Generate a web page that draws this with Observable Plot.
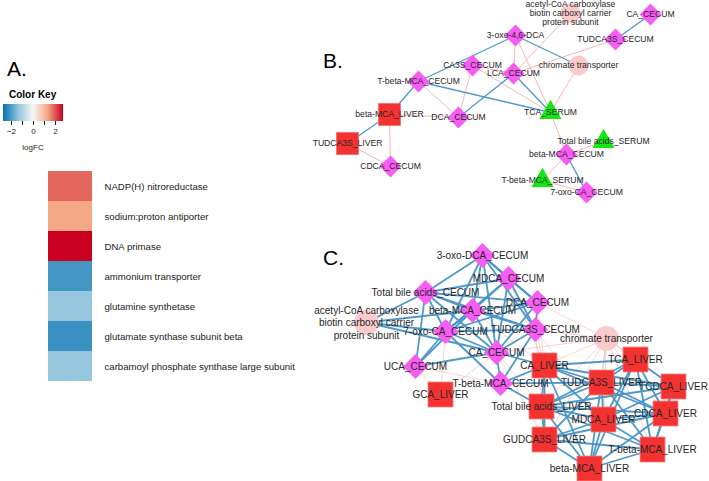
<!DOCTYPE html>
<html><head><meta charset="utf-8">
<script src="https://cdn.jsdelivr.net/npm/d3@7"></script>
<script src="https://cdn.jsdelivr.net/npm/@observablehq/plot@0.6"></script>
<style>
body{margin:0;background:#fff;}
#wrap{position:relative;width:709px;height:481px;overflow:hidden;font-family:"Liberation Sans",Arial,Helvetica,sans-serif;color:#000;background:#fff;}
.abs{position:absolute;}
.panel{position:absolute;font-size:21px;line-height:21px;white-space:nowrap;}
</style></head><body><div id="wrap"></div>
<script>
// ---------- Panel A data ----------
const genes = ["NADP(H) nitroreductase","sodium:proton antiporter","DNA primase","ammonium transporter","glutamine synthetase","glutamate synthase subunit beta","carbamoyl phosphate synthase large subunit"];
const logFC = [1.86, 1.3, 2.7, -2.1, -1.3, -2.2, -1.3];
const keyTicks = [-2, -1, 0, 1, 2];
const keyStops = [-2.7, -1.35, 0, 1.35, 2.7];
const keyColors = ["#0571B0", "#92C5DE", "#F7F7F7", "#F4A582", "#CA0020"];

// ---------- Panel B network: [id, label, x, y, kind] ----------
const nodesB = [
  ["b_acc","acetyl-CoA carboxylase\nbiotin carboxyl carrier\nprotein subunit",570,13,"gene"],
  ["b_chr","chromate transporter",578,65,"gene"],
  ["b_ca","CA_CECUM",650,14,"cecum"],
  ["b_tud","TUDCA3S_CECUM",615,39,"cecum"],
  ["b_3oxo","3-oxo-4,6-DCA",515,35,"cecum"],
  ["b_lca","LCA_CECUM",513,73,"cecum"],
  ["b_ca3s","CA3S_CECUM",472,65,"cecum"],
  ["b_tbmca","T-beta-MCA_CECUM",418,81,"cecum"],
  ["b_bmcaL","beta-MCA_LIVER",389,114,"liver"],
  ["b_dca","DCA_CECUM",458,117,"cecum"],
  ["b_tudL","TUDCA3S_LIVER",347,143,"liver"],
  ["b_cdca","CDCA_CECUM",390,166,"cecum"],
  ["b_tcaS","TCA_SERUM",550,112,"serum"],
  ["b_tbaS","Total bile acids_SERUM",603,141,"serum"],
  ["b_bmca","beta-MCA_CECUM",566,154,"cecum"],
  ["b_tbmcaS","T-beta-MCA_SERUM",542,180,"serum"],
  ["b_7oxo","7-oxo-CA_CECUM",586,192,"cecum"]
];
// [source, target, sign]  (-1 blue, +1 pink)
const edgesB = [
  ["b_3oxo","b_lca",1],["b_3oxo","b_tcaS",1],["b_ca3s","b_lca",1],["b_ca3s","b_dca",1],
  ["b_tbmca","b_dca",1],["b_bmcaL","b_dca",1],["b_bmcaL","b_cdca",1],["b_tudL","b_cdca",1],
  ["b_lca","b_acc",1],["b_lca","b_tud",1],["b_chr","b_tcaS",1],["b_tcaS","b_bmca",1],
  ["b_bmca","b_tbaS",1],["b_bmca","b_tbmcaS",1],["b_tbmcaS","b_7oxo",1],["b_ca3s","b_tcaS",1],
  ["b_tbmca","b_3oxo",-1],["b_bmcaL","b_tbmca",-1],["b_tudL","b_bmcaL",-1],["b_dca","b_lca",-1],
  ["b_lca","b_tcaS",-1],["b_tbmca","b_tcaS",-1],["b_3oxo","b_chr",-1],["b_tud","b_ca",-1],
  ["b_bmca","b_7oxo",-1]
];

// ---------- Panel C network ----------
const nodesC = [
  ["c_acc","acetyl-CoA carboxylase\nbiotin carboxyl carrier\nprotein subunit",366,322,"gene"],
  ["c_chr","chromate transporter",606,338,"gene"],
  ["c_3oxo","3-oxo-DCA_CECUM",482,255,"cecum"],
  ["c_mdca","MDCA_CECUM",508,278,"cecum"],
  ["c_tba","Total bile acids_CECUM",425,292,"cecum"],
  ["c_dca","DCA_CECUM",537,302,"cecum"],
  ["c_bmca","beta-MCA_CECUM",472,310,"cecum"],
  ["c_tud","TUDCA3S_CECUM",535,329,"cecum"],
  ["c_7oxo","7-oxo-CA_CECUM",445,331,"cecum"],
  ["c_ca","CA_CECUM",496,352,"cecum"],
  ["c_uca","UCA_CECUM",415,366,"cecum"],
  ["c_tbmca","T-beta-MCA_CECUM",500,383,"cecum"],
  ["l_gca","GCA_LIVER",440,394,"liver"],
  ["l_ca","CA_LIVER",544,365,"liver"],
  ["l_tca","TCA_LIVER",635,359,"liver"],
  ["l_tud","TUDCA3S_LIVER",601,382,"liver"],
  ["l_tcdca","TCDCA_LIVER",673,386,"liver"],
  ["l_tba","Total bile acids_LIVER",541,406,"liver"],
  ["l_mdca","MDCA_LIVER",603,419,"liver"],
  ["l_cdca","CDCA_LIVER",665,413,"liver"],
  ["l_gud","GUDCA3S_LIVER",544,439,"liver"],
  ["l_tbmca","T-beta-MCA_LIVER",652,449,"liver"],
  ["l_bmca","beta-MCA_LIVER",589,468,"liver"]
];
const edgesC = [
  // pink
  ["c_chr","l_ca",1],["c_chr","l_tca",1],["c_chr","l_tud",1],["c_chr","l_tba",1],["c_chr","l_mdca",1],
  ["c_chr","l_gud",1],["c_chr","l_bmca",1],["c_chr","l_tbmca",1],["c_chr","l_cdca",1],["c_chr","l_tcdca",1],
  ["c_chr","c_tud",1],["c_chr","c_dca",1],["c_chr","c_ca",1],["c_tud","l_ca",1],["c_tud","l_tba",1],
  ["c_ca","l_tba",1],["c_ca","l_gud",1],["c_dca","l_ca",1],["c_mdca","l_ca",1],["c_bmca","l_ca",1],
  ["l_gca","c_uca",1],["l_gca","c_ca",1],["l_gca","c_7oxo",1],["c_uca","c_tbmca",1],["c_tud","l_mdca",1],
  // blue, cecum
  ["c_3oxo","c_mdca",-1],["c_3oxo","c_tba",-1],["c_3oxo","c_bmca",-1],["c_3oxo","c_dca",-1],["c_3oxo","c_7oxo",-1],
  ["c_3oxo","c_ca",-1],["c_3oxo","c_tud",-1],["c_mdca","c_tba",-1],["c_mdca","c_bmca",-1],["c_mdca","c_dca",-1],
  ["c_mdca","c_tud",-1],["c_mdca","c_7oxo",-1],["c_mdca","c_ca",-1],["c_tba","c_bmca",-1],["c_tba","c_dca",-1],
  ["c_tba","c_7oxo",-1],["c_tba","c_ca",-1],["c_tba","c_tud",-1],["c_tba","c_uca",-1],["c_tba","c_acc",-1],
  ["c_bmca","c_dca",-1],["c_bmca","c_tud",-1],["c_bmca","c_7oxo",-1],["c_bmca","c_ca",-1],["c_bmca","c_uca",-1],
  ["c_dca","c_tud",-1],["c_dca","c_ca",-1],["c_dca","c_7oxo",-1],["c_tud","c_ca",-1],["c_tud","c_7oxo",-1],
  ["c_tud","c_tbmca",-1],["c_7oxo","c_ca",-1],["c_7oxo","c_uca",-1],["c_7oxo","c_acc",-1],["c_7oxo","c_tbmca",-1],
  ["c_ca","c_uca",-1],["c_ca","c_tbmca",-1],["c_acc","c_ca",-1],["c_acc","c_bmca",-1],
  // blue, cecum-liver
  ["l_ca","c_tbmca",-1],["l_ca","c_ca",-1],["c_tbmca","l_tba",-1],["c_tbmca","l_tud",-1],
  // blue, liver
  ["l_ca","l_tca",-1],["l_ca","l_tud",-1],["l_ca","l_tba",-1],["l_ca","l_mdca",-1],["l_ca","l_gud",-1],
  ["l_ca","l_bmca",-1],["l_ca","l_cdca",-1],["l_ca","l_tcdca",-1],
  ["l_tca","l_tud",-1],["l_tca","l_tcdca",-1],["l_tca","l_mdca",-1],["l_tca","l_cdca",-1],["l_tca","l_tbmca",-1],
  ["l_tca","l_tba",-1],["l_tca","l_bmca",-1],
  ["l_tud","l_tcdca",-1],["l_tud","l_tba",-1],["l_tud","l_mdca",-1],["l_tud","l_cdca",-1],["l_tud","l_gud",-1],
  ["l_tud","l_bmca",-1],["l_tud","l_tbmca",-1],
  ["l_tcdca","l_cdca",-1],["l_tcdca","l_tbmca",-1],["l_tcdca","l_mdca",-1],["l_tcdca","l_tba",-1],
  ["l_tba","l_mdca",-1],["l_tba","l_gud",-1],["l_tba","l_bmca",-1],["l_tba","l_cdca",-1],["l_tba","l_tbmca",-1],
  ["l_mdca","l_cdca",-1],["l_mdca","l_gud",-1],["l_mdca","l_bmca",-1],["l_mdca","l_tbmca",-1],
  ["l_cdca","l_tbmca",-1],["l_cdca","l_bmca",-1],["l_cdca","l_gud",-1],
  ["l_gud","l_bmca",-1],["l_gud","l_tbmca",-1],["l_tbmca","l_bmca",-1]
];

const panelLetters = ["A.", "B.", "C."];

// ---------- rendering ----------
const FONT = "Liberation Sans, Arial, Helvetica, sans-serif";
const BLUE = "#4593C7", PINK = "#F3A3A3";
const wrap = document.getElementById("wrap");

function networkMarks(nodes, edges, o) {
  const pos = new Map(nodes.map(n => [n[0], n]));
  const E = edges.map(([s, t, sign]) => ({s: pos.get(s), t: pos.get(t), sign}));
  const N = nodes.map(([id, label, x, y, kind]) => ({id, label, x, y, kind}));
  const link = (sign, stroke, w, op) => Plot.link(E.filter(e => e.sign === sign), {
    x1: e => e.s[2], y1: e => e.s[3], x2: e => e.t[2], y2: e => e.t[3],
    stroke, strokeWidth: w, strokeOpacity: op
  });
  return [
    link(1, PINK, o.pinkW, o.pinkO),
    link(-1, BLUE, o.blueW, 0.95),
    Plot.dot(N.filter(n => n.kind === "gene"), {x: "x", y: "y", r: o.circleR, fill: "#FBCACA", stroke: "none"}),
    Plot.dot(N.filter(n => n.kind === "liver"), {x: "x", y: "y", symbol: "square", r: o.squareR, fill: "#F43232", stroke: "#F76A6A", strokeWidth: 0.8}),
    Plot.dot(N.filter(n => n.kind === "cecum"), {x: "x", y: "y", symbol: "diamond2", r: o.diamondR, fill: "#F75CF3", stroke: "none"}),
    Plot.dot(N.filter(n => n.kind === "serum"), {x: "x", y: "y", symbol: "triangle", r: o.triR, fill: "#12E812", stroke: "none"}),
    Plot.text(N, {x: "x", y: "y", text: "label", fontSize: o.fs, fill: "#262626", lineHeight: o.lh, fontFamily: FONT})
  ];
}

const net = Plot.plot({
  width: 709, height: 481, margin: 0,
  x: {domain: [0, 709], range: [0, 709], axis: null},
  y: {domain: [0, 481], range: [0, 481], axis: null},
  style: {background: "transparent", fontFamily: FONT},
  marks: [
    ...networkMarks(nodesB, edgesB, {pinkW: 0.9, pinkO: 0.9, blueW: 1.3, circleR: 10, squareR: 12.4, diamondR: 9.8, triR: 8.2, fs: 8.6, lh: 1.05}),
    ...networkMarks(nodesC, edgesC, {pinkW: 0.7, pinkO: 0.7, blueW: 1.8, circleR: 12.5, squareR: 14, diamondR: 11.3, triR: 9, fs: 10, lh: 1.22})
  ]
});
const netDiv = document.createElement("div");
netDiv.className = "abs"; netDiv.style.left = "0px"; netDiv.style.top = "0px";
netDiv.appendChild(net);
wrap.appendChild(netDiv);

// heatmap
const rows = genes.map((g, i) => ({gene: g, logFC: logFC[i]}));
const colorOpts = {type: "linear", domain: keyStops, range: keyColors, interpolate: "rgb"};
const heat = Plot.plot({
  width: 320, height: 216, marginTop: 0, marginBottom: 0, marginLeft: 48, marginRight: 228,
  x: {axis: null, domain: ["logFC"], padding: 0},
  y: {domain: genes, padding: 0, axis: "right", tickSize: 0, tickPadding: 12, label: null},
  color: colorOpts,
  style: {fontSize: "9.6px", fontFamily: FONT, color: "#222", background: "transparent"},
  marks: [Plot.cell(rows, {x: () => "logFC", y: "gene", fill: "logFC", inset: 0})]
});
const heatDiv = document.createElement("div");
heatDiv.className = "abs"; heatDiv.style.left = "0px"; heatDiv.style.top = "168px";
heatDiv.appendChild(heat);
wrap.appendChild(heatDiv);

// color key
const leg = Plot.legend({
  color: colorOpts, width: 66, height: 37, marginLeft: 3, marginRight: 3, marginTop: 0, marginBottom: 20,
  tickSize: 4, ticks: keyTicks, tickFormat: d => (d % 2 ? "" : d3.format("d")(d)),
  style: {fontSize: "8px", fontFamily: FONT, background: "transparent", color: "#222"}
});
leg.querySelectorAll(".tick line").forEach(l => l.setAttribute("y1", 0));
const legDiv = document.createElement("div");
legDiv.className = "abs"; legDiv.style.left = "0px"; legDiv.style.top = "104px";
legDiv.appendChild(leg);
wrap.appendChild(legDiv);

function addText(txt, css) {
  const d = document.createElement("div");
  d.className = "abs"; d.textContent = txt;
  Object.assign(d.style, css);
  wrap.appendChild(d);
}
addText("Color Key", {left: "9px", top: "90px", fontSize: "10px", lineHeight: "10px", fontWeight: "bold"});
addText("logFC", {left: "0px", width: "66px", textAlign: "center", top: "144px", fontSize: "8px", lineHeight: "8px", color: "#222"});

const letterPos = [[7, 58], [323, 50], [323, 247]];
panelLetters.forEach((t, i) => {
  const d = document.createElement("div");
  d.className = "panel"; d.textContent = t;
  d.style.left = letterPos[i][0] + "px"; d.style.top = letterPos[i][1] + "px";
  wrap.appendChild(d);
});
</script></body></html>
